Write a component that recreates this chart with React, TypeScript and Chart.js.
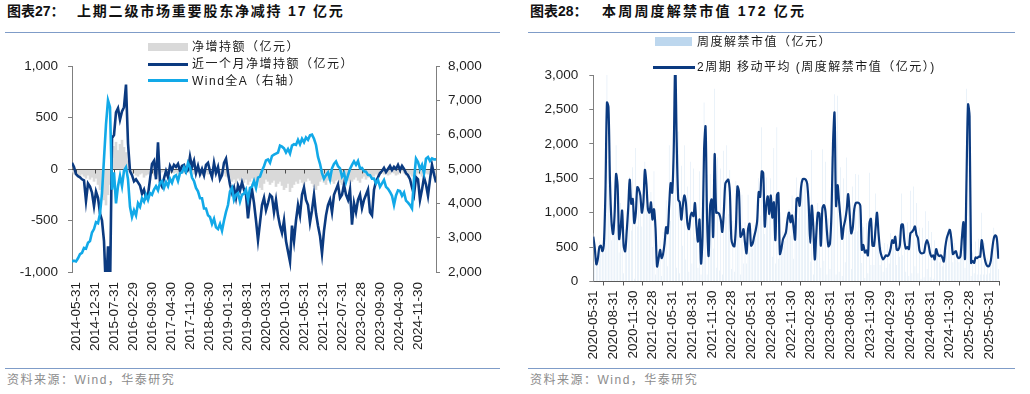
import React, { useEffect, useRef } from "react";
import { Chart, registerables } from "chart.js";

Chart.register(...registerables);

// ---------------- Left chart (图表27) ----------------
const LEFT_TICK_LABELS = [
  "2014-05-31", "2014-12-31", "2015-07-31", "2016-02-29", "2016-09-30", "2017-04-30",
  "2017-11-30", "2018-06-30", "2019-01-31", "2019-08-31", "2020-03-31", "2020-10-31",
  "2021-05-31", "2021-12-31", "2022-07-31", "2023-02-28", "2023-09-30", "2024-04-30",
  "2024-11-30",
];
// samples are taken every ~22 days (0.7353 month) starting mid-April 2014
const LEFT_START_MONTH = -1.47;
const LEFT_STEP_MONTH = 0.7353;

// 净增持额（亿元）
const netIncrease = [
  -30, -50, -40, -60, -80, -50, -70, -90, -60, -100, -80, -120, -90, -150,
  -200, -260, -300, -350, -250, -150,
  150, 220, 260, 180, 240, 280, 210, 160, 80,
  -30, -50, -40, -60, -70, -50, -40, -80, -60, -50, -40, -30, -60, -70, -50, -40, -30, -20, -40, -50,
  -30, -20, -40, -30, -50, -20, -30, -40, -20, -30, -40, -30, -50, -40, -30, -50, -60, -40, -30, -50,
  -40, -60, -50, -30, -40, -60, -50, -40, -70, -80,
  -80, -120, -100, -140, -90, -110, -80, -130, -100, -150, -120, -90, -140, -160, -120, -180, -200, -140, -100, -120,
  -150, -130, -110, -170, -140, -120, -160, -200, -180, -140, -220, -180, -150, -120, -140, -100, -130, -160, -120, -90,
  -110, -140, -170, -200, -160, -120, -100, -130, -150, -110, -90, -120, -140, -110, -100, -130, -150, -120, -90, -110,
  -140, -120, -100, -80, -110, -130, -90, -70, -100, -80, -60, -90, -70, -50, -60, -40,
  -30, -50, -40, -60, -50, -30, -40, -60, -50, -30, -20, -40, -60, -80, -50, -70, -90, -60, -40, -50,
  -70, -60, -40, -50, -30, -40, -60, -50,
];

// 近一个月净增持额（亿元）
const monthNetIncrease = [
  60, 20, -50, -70, -80, -100, -110, -310, -140, -170,
  -230, -360, -220, -280, -430, -500, -700, -1200, -750, -1200,
  300, 330, 550, 590, 480, 560, 600, 820, 250, -20,
  -60, -120, -100, -130, -160, -240, -200, -280, -250, -100,
  50, 80, -100, 260, -130, -170, -90, -20, -80, 30,
  -10, 40, 20, 50, -20, 30, 40, -30, -10, 120,
  20, 80, -40, 30, -50, 0, -60, 40, 60, -20,
  -80, 60, -40, 20, -100, -60, 60, 100, -40, -150,
  -230, -180, -280, -160, -210, -130, -200, -250, -480, -300,
  -200, -330, -500, -690, -520, -350, -280, -400, -330, -250,
  -270, -420, -300, -450, -550, -620, -500, -700, -800, -900,
  -550, -700, -500, -350, -450, -250, -180, -300, -350, -520,
  -400, -250, -430, -550, -650, -820, -600, -450, -350, -300,
  -420, -250, -200, -150, -280, -250, -150, -250, -300, -200,
  -540, -330, -420, -300, -250, -380, -300, -250, -200, -420,
  -450, -200, -120, -80, -40, -20, 10, -30, 0, 30,
  -10, 20, 0, 40, -10, 30, 0, -40, -60, -100,
  -180, -250, -80, -100, -300, -200, -80, -150, -260, -100,
  40, -50, -130,
];

// Wind全A（右轴）
const windAllA = [
  2300, 2330, 2310, 2400, 2520, 2560, 2700, 2680, 2850, 2900,
  3150, 3250, 3450, 3420, 3700, 4300, 5300, 6300, 7000, 6800,
  4400, 4900, 4000, 4500, 4800, 4500, 4950, 5050, 4700, 3900,
  3600, 3800, 3650, 4000, 3900, 4150, 4050, 4250, 4100, 4300,
  4250, 4400, 4500, 4380, 4600, 4650, 4450, 4620, 4500, 4720,
  4600, 4780, 4820, 4650, 4880, 4900, 5050, 4920, 5180, 5050,
  4750, 4650, 4450, 4350, 4150, 4150, 3850, 3850, 3650, 3600,
  3400, 3550, 3300, 3250, 3400, 3200, 3500, 3750, 3950, 4350,
  4450, 4100, 4250, 4300, 4050, 4250, 4280, 4400, 4100, 4450,
  4480, 4650, 4450, 4750, 4780, 4950, 5080, 5250, 5280, 5180,
  5380, 5420, 5450, 5480, 5680, 5650, 5600, 5480, 5580, 5450,
  5680, 5720, 5700, 5850, 5720, 5880, 5780, 5920, 5850, 5980,
  6000, 5880, 5700, 5350, 5150, 4880, 4720, 4820, 4900, 4700,
  5020, 5150, 5220, 5080, 5020, 4780, 4880, 4620, 4820, 5000,
  5120, 5220, 5120, 5230, 5020, 5030, 4930, 4920, 4830, 4820,
  4720, 4720, 4580, 4680, 4480, 4580, 4680, 4480, 4420, 4330,
  4220, 3950, 4230, 4380, 4360, 4220, 4320, 4080, 4020, 3950,
  3850, 4700, 5300, 5200, 5000, 5120, 4880, 5300, 5350, 5230,
  5310, 5280, 5280,
];

// ---------------- Right chart (图表28) ----------------
const RIGHT_START_DATE = "2020-05-31";
const RIGHT_TICK_LABELS = [
  "2020-05-31", "2020-08-31", "2020-11-30", "2021-02-28", "2021-05-31", "2021-08-31",
  "2021-11-30", "2022-02-28", "2022-05-31", "2022-08-31", "2022-11-30", "2023-02-28",
  "2023-05-31", "2023-08-31", "2023-11-30", "2024-02-29", "2024-05-31", "2024-08-31",
  "2024-11-30", "2025-02-28", "2025-05-31",
];

// 周度解禁市值（亿元）, weekly
const weeklyUnlock = [
  700, 260, 240, 420, 580, 460, 420, 700, 1900, 3300,
  1760, 1140, 600, 780, 1140, 1980, 820, 420, 1140, 920,
  120, 760, 680, 1440, 1520, 740, 1660, 40, 1940, 800,
  1300, 1200, 800, 1500, 1740, 1100, 1000, 1000, 1300, 500,
  1600, 100, 340, 320, 600, 80, 720, 400, 1180, 220,
  1980, 880, 1700, 2100, 4300, 200, 2180, 120, 1680, 520,
  1980, 320, 1380, 140, 1740, 260, 1640, 640, 960, 200,
  1600, 100, 1200, 2600, 1900, 100, 640, 1560, 820, 480,
  2800, 200, 1800, 160, 1640, 100, 1900, 940, 1980, 980,
  1620, 180, 880, 140, 1460, 1300, 1300, 100, 1260, 260,
  860, 260, 1260, 420, 620, 480, 820, 660, 1100, 1500,
  960, 2240, 910, 690, 1510, 960, 1000, 1500, 360, 1940,
  260, 2240, 330, 470, 490, 730, 590, 850, 950, 1050,
  670, 1250, 330, 890, 1510, 920, 1280, 1480, 1490, 1490,
  1470, 1370, 830, 290, 1910, 100, 540, 860, 1140, 840,
  200, 1920, 300, 1740, 100, 920, 180, 1820, 2180, 2720,
  100, 2700, 140, 1660, 80, 1500, 280, 1800, 740, 1220,
  180, 1380, 720, 1560, 730, 1550, 650, 270, 790, 50,
  850, 120, 1580, 240, 800, 240, 1280, 720, 680, 240,
  500, 140, 560, 200, 540, 260, 700, 500, 620, 680,
  240, 680, 360, 1280, 380, 820, 140, 860, 80, 1320,
  120, 1380, 220, 1140, 120, 780, 40, 780, 60, 1020,
  180, 880, 60, 720, 40, 600, 340, 460, 280, 480,
  220, 360, 640, 620, 780, 720, 520, 280, 560, 320,
  400, 280, 460, 840, 880, 200, 2800, 2340, 2460, 80,
  420, 120, 580, 100, 620, 100, 1000, 100, 560, 100,
  340, 120, 480, 480, 780, 560, 680, 180,
];

// 2周期 移动平均 (周度解禁市值（亿元）)
const unlockMA2 = [
  650, 480, 250, 330, 500, 520, 440, 560, 1300, 2600,
  2530, 1450, 870, 690, 960, 1560, 1400, 620, 780, 1030,
  520, 440, 720, 1060, 1480, 1130, 1200, 850, 990, 1370,
  1340, 1250, 1000, 1150, 1620, 1420, 1050, 1000, 1150, 900,
  1050, 780, 220, 330, 460, 340, 400, 560, 790, 700,
  1100, 1430, 1290, 1900, 3200, 2000, 1190, 1150, 900, 1100,
  1250, 1150, 850, 760, 940, 1000, 950, 1140, 800, 580,
  900, 260, 650, 1900, 2250, 900, 370, 1100, 1190, 650,
  1850, 1000, 1000, 980, 900, 720, 1000, 1420, 1460, 1480,
  1300, 620, 530, 510, 800, 1380, 1300, 650, 680, 760,
  560, 410, 760, 840, 520, 550, 650, 740, 880, 1300,
  1230, 1600, 1575, 800, 1100, 1235, 980, 1250, 930, 1150,
  600, 1250, 1285, 400, 480, 610, 660, 720, 900, 1000,
  860, 960, 790, 610, 1200, 1215, 1100, 1380, 1485, 1490,
  1480, 1420, 1100, 560, 1100, 800, 320, 700, 1000, 990,
  520, 1060, 1110, 1020, 720, 510, 550, 1000, 2000, 2450,
  1100, 1400, 1150, 900, 620, 790, 890, 1040, 1270, 980,
  700, 780, 1050, 1140, 1145, 1140, 1100, 460, 530, 420,
  450, 380, 850, 910, 520, 520, 760, 1000, 700, 460,
  370, 320, 350, 380, 370, 400, 480, 600, 560, 650,
  460, 460, 520, 820, 830, 600, 480, 500, 470, 700,
  720, 750, 800, 680, 630, 450, 410, 410, 420, 540,
  600, 530, 410, 360, 380, 320, 470, 400, 370, 380,
  350, 290, 500, 630, 700, 750, 620, 400, 420, 440,
  360, 340, 370, 650, 860, 330, 1500, 2570, 2400, 270,
  300, 270, 350, 340, 360, 360, 600, 470, 330, 250,
  220, 230, 300, 480, 630, 670, 620, 330,
];

// ---------------- helpers ----------------
const FONT = '"Liberation Sans", Arial, "Noto Sans CJK SC", sans-serif';
const CJK = '"Liberation Sans", Arial, "Noto Sans CJK SC", sans-serif';
const AXIS_GRAY = "#7f7f7f";
const TICK_COLOR = "#1f1f1f";
const DARK_BLUE = "#0b3a80";
const LIGHT_BLUE = "#12a9e8";
const GRAY_BAR = "#d9d9d9";
const PALE_BLUE = "#bdd7ee";
const BAR_BLUE = "#cfe1f2";

const monthsFrom201405 = (s: string) => {
  const y = +s.slice(0, 4);
  const m = +s.slice(5, 7);
  return (y - 2014) * 12 + (m - 5);
};
const weeksFromStart = (s: string) => {
  const p = (t: string) => Date.UTC(+t.slice(0, 4), +t.slice(5, 7) - 1, +t.slice(8, 10));
  return (p(s) - p(RIGHT_START_DATE)) / (7 * 86400000);
};
const fmt = (v: number) => Number(v).toLocaleString("en-US");

const tickFont = { family: FONT, size: 13.5 };

const zeroLinePlugin = {
  id: "zeroLine",
  afterDatasetDraw(chart: any, args: any) {
    if (args.index !== 0) return;
    const { ctx, chartArea, scales } = chart;
    const y0 = Math.round(scales.y.getPixelForValue(0)) + 0.5;
    ctx.save();
    ctx.strokeStyle = "#4d4d4d";
    ctx.lineWidth = 1;
    ctx.beginPath();
    ctx.moveTo(chartArea.left, y0);
    ctx.lineTo(chartArea.right, y0);
    for (const t of scales.x.ticks) {
      const x = Math.round(scales.x.getPixelForValue(t.value)) + 0.5;
      ctx.moveTo(x, y0);
      ctx.lineTo(x, y0 + 4);
    }
    ctx.stroke();
    ctx.restore();
  },
};

function LeftChart() {
  const ref = useRef<HTMLCanvasElement>(null);
  useEffect(() => {
    const xs = (i: number) => LEFT_START_MONTH + i * LEFT_STEP_MONTH;
    const tickMonths = LEFT_TICK_LABELS.map(monthsFrom201405);
    const chart = new Chart(ref.current as HTMLCanvasElement, {
      type: "bar",
      data: {
        datasets: [
          {
            type: "bar",
            label: "净增持额（亿元）",
            data: netIncrease.map((v, i) => ({ x: xs(i), y: v })),
            backgroundColor: GRAY_BAR,
            borderWidth: 0,
            barPercentage: 1,
            categoryPercentage: 1,
            yAxisID: "y",
            order: 3,
          } as any,
          {
            type: "line",
            label: "近一个月净增持额（亿元）",
            data: monthNetIncrease.map((v, i) => ({ x: xs(i), y: v })),
            borderColor: DARK_BLUE,
            borderWidth: 2.6,
            pointRadius: 0,
            tension: 0,
            yAxisID: "y",
            order: 2,
          },
          {
            type: "line",
            label: "Wind全A（右轴）",
            data: windAllA.map((v, i) => ({ x: xs(i), y: v })),
            borderColor: LIGHT_BLUE,
            borderWidth: 2.6,
            pointRadius: 0,
            tension: 0,
            yAxisID: "y1",
            order: 1,
          },
        ],
      },
      options: {
        responsive: false,
        animation: false,
        devicePixelRatio: 1,
        layout: { padding: { top: 66, left: 0, right: 0, bottom: 0 } },
        plugins: { legend: { display: false }, tooltip: { enabled: false }, title: { display: false } },
        scales: {
          x: {
            type: "linear",
            offset: false,
            min: LEFT_START_MONTH,
            max: LEFT_START_MONTH + (monthNetIncrease.length - 1) * LEFT_STEP_MONTH,
            afterBuildTicks: (axis: any) => {
              axis.ticks = tickMonths.map((v) => ({ value: v }));
            },
            afterFit: (axis: any) => {
              axis.height = 93;
            },
            grid: { display: false, drawTicks: false },
            border: { display: false },
            ticks: {
              autoSkip: false,
              minRotation: 90,
              maxRotation: 90,
              padding: 10,
              color: TICK_COLOR,
              font: tickFont,
              callback: (_v: any, i: number) => LEFT_TICK_LABELS[i],
            },
          },
          y: {
            position: "left",
            min: -1000,
            max: 1000,
            afterFit: (axis: any) => {
              axis.width = 72;
            },
            grid: { drawOnChartArea: false, drawTicks: true, tickLength: 4, tickColor: AXIS_GRAY },
            border: { display: true, color: AXIS_GRAY, width: 1 },
            ticks: { stepSize: 500, padding: 10, color: TICK_COLOR, font: tickFont, callback: (v: any) => fmt(v) },
          },
          y1: {
            position: "right",
            min: 2000,
            max: 8000,
            afterFit: (axis: any) => {
              axis.width = 79;
            },
            grid: { drawOnChartArea: false, drawTicks: true, tickLength: 4, tickColor: AXIS_GRAY },
            border: { display: true, color: AXIS_GRAY, width: 1 },
            ticks: { stepSize: 1000, padding: 8, color: TICK_COLOR, font: tickFont, callback: (v: any) => fmt(v) },
          },
        },
      } as any,
      plugins: [zeroLinePlugin],
    });
    return () => chart.destroy();
  }, []);
  return <canvas ref={ref} width={515} height={365} style={{ position: "absolute", left: 0, top: 0 }} />;
}

function RightChart() {
  const ref = useRef<HTMLCanvasElement>(null);
  useEffect(() => {
    const tickWeeks = RIGHT_TICK_LABELS.map(weeksFromStart);
    const chart = new Chart(ref.current as HTMLCanvasElement, {
      type: "bar",
      data: {
        datasets: [
          {
            type: "bar",
            label: "周度解禁市值（亿元）",
            data: weeklyUnlock.map((v, i) => ({ x: i, y: v })),
            backgroundColor: BAR_BLUE,
            borderWidth: 0,
            barPercentage: 0.28,
            categoryPercentage: 1,
            order: 2,
          } as any,
          {
            type: "line",
            label: "2周期 移动平均 (周度解禁市值（亿元）)",
            data: unlockMA2.map((v, i) => ({ x: i, y: v })),
            borderColor: DARK_BLUE,
            borderWidth: 2.2,
            pointRadius: 0,
            tension: 0.3,
            order: 1,
          },
        ],
      },
      options: {
        responsive: false,
        animation: false,
        devicePixelRatio: 1,
        layout: { padding: { top: 75, left: 0, right: 30.7, bottom: 0 } },
        plugins: { legend: { display: false }, tooltip: { enabled: false }, title: { display: false } },
        scales: {
          x: {
            type: "linear",
            offset: false,
            min: 0,
            max: 267.6,
            afterBuildTicks: (axis: any) => {
              axis.ticks = tickWeeks.map((v) => ({ value: v }));
            },
            afterFit: (axis: any) => {
              axis.height = 83.5;
            },
            grid: { drawOnChartArea: false, drawTicks: true, tickLength: 4, tickColor: "#595959" },
            border: { display: true, color: "#595959", width: 1 },
            ticks: {
              autoSkip: false,
              minRotation: 90,
              maxRotation: 90,
              padding: 5,
              color: TICK_COLOR,
              font: tickFont,
              callback: (_v: any, i: number) => RIGHT_TICK_LABELS[i],
            },
          },
          y: {
            position: "left",
            min: 0,
            max: 3000,
            afterFit: (axis: any) => {
              axis.width = 78.3;
            },
            grid: { drawOnChartArea: false, drawTicks: true, tickLength: 4, tickColor: AXIS_GRAY },
            border: { display: true, color: AXIS_GRAY, width: 1 },
            ticks: { stepSize: 500, padding: 11, color: TICK_COLOR, font: tickFont, callback: (v: any) => fmt(v) },
          },
        },
      } as any,
    });
    return () => chart.destroy();
  }, []);
  return <canvas ref={ref} width={515} height={365} style={{ position: "absolute", left: 515, top: 0 }} />;
}

const abs = (s: React.CSSProperties): React.CSSProperties => ({ position: "absolute", ...s });

const legendText: React.CSSProperties = {
  fontFamily: CJK,
  fontSize: 12,
  letterSpacing: 1.5,
  color: "#1a1a1a",
  whiteSpace: "pre",
  lineHeight: "14px",
};

export default function App() {
  return (
    <div
      style={{
        position: "absolute",
        left: 0,
        top: 0,
        width: 1030,
        height: 394,
        background: "#fff",
        overflow: "hidden",
        fontFamily: CJK,
      }}
    >
      {/* titles */}
      <div style={abs({ left: 7, top: 3, fontSize: 14, fontWeight: "bold", whiteSpace: "pre", lineHeight: "16px", color: "#111" })}>
        图表27：
      </div>
      <div style={abs({ left: 77, top: 3, fontSize: 14, fontWeight: "bold", whiteSpace: "pre", lineHeight: "16px", letterSpacing: 1.8, color: "#111" })}>
        上期二级市场重要股东净减持 17 亿元
      </div>
      <div style={abs({ left: 530, top: 3, fontSize: 14, fontWeight: "bold", whiteSpace: "pre", lineHeight: "16px", color: "#111" })}>
        图表28：
      </div>
      <div style={abs({ left: 602, top: 3, fontSize: 14, fontWeight: "bold", whiteSpace: "pre", lineHeight: "16px", letterSpacing: 2.2, color: "#111" })}>
        本周周度解禁市值 172 亿元
      </div>
      <div style={abs({ left: 5, top: 32, width: 495, height: 1, background: "#7f9cc8" })} />
      <div style={abs({ left: 528, top: 32, width: 487, height: 1, background: "#7f9cc8" })} />

      <LeftChart />
      <RightChart />

      {/* left legend */}
      <div style={abs({ left: 148, top: 43, width: 40, height: 8, background: GRAY_BAR })} />
      <div style={abs({ ...legendText, left: 192, top: 40 })}>净增持额（亿元）</div>
      <div style={abs({ left: 148, top: 63, width: 40, height: 3, background: DARK_BLUE })} />
      <div style={abs({ ...legendText, left: 192, top: 57 })}>近一个月净增持额（亿元）</div>
      <div style={abs({ left: 148, top: 79, width: 40, height: 3, background: LIGHT_BLUE })} />
      <div style={abs({ ...legendText, left: 192, top: 74 })}>Wind全A（右轴）</div>

      {/* right legend */}
      <div style={abs({ left: 655, top: 37, width: 37, height: 9, background: PALE_BLUE })} />
      <div style={abs({ ...legendText, left: 697, top: 35 })}>周度解禁市值（亿元）</div>
      <div style={abs({ left: 653, top: 66, width: 42, height: 2.5, background: DARK_BLUE })} />
      <div style={abs({ ...legendText, left: 697, top: 60 })}>2周期 移动平均 (周度解禁市值（亿元）)</div>

      {/* sources */}
      <div style={abs({ left: 5, top: 368, width: 495, height: 1, background: "#7f9cc8" })} />
      <div style={abs({ left: 528, top: 368, width: 487, height: 1, background: "#7f9cc8" })} />
      <div style={abs({ ...legendText, left: 7, top: 373, color: "#8c8c8c" })}>资料来源：Wind，华泰研究</div>
      <div style={abs({ ...legendText, left: 530, top: 373, color: "#8c8c8c" })}>资料来源：Wind，华泰研究</div>
    </div>
  );
}
